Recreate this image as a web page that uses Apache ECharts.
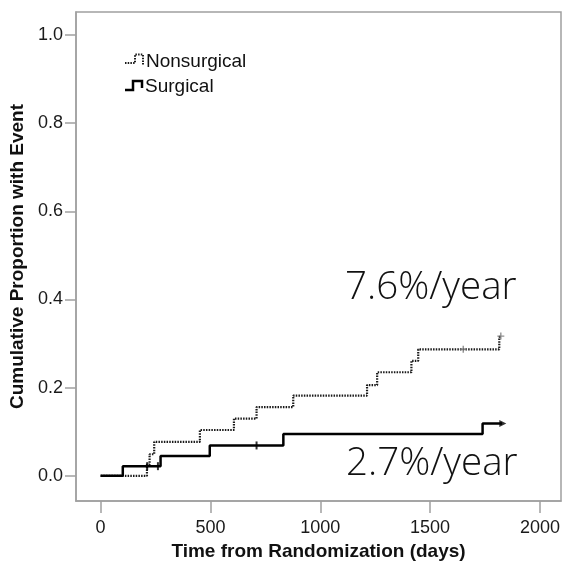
<!DOCTYPE html>
<html>
<head>
<meta charset="utf-8">
<script src="https://cdn.jsdelivr.net/npm/echarts@6/dist/echarts.min.js"></script>
<style>
html, body { margin: 0; padding: 0; background: #fff; }
#chart { width: 563px; height: 567px; }
</style>
</head>
<body>
<div id="chart"></div>
<script>
// 刻度
var xTicks = [0, 500, 1000, 1500, 2000];
var yTicks = [0, 0.2, 0.4, 0.6, 0.8, 1.0];

// Nonsurgical 累积事件 (阶梯)
var nonsurgDays = [0, 211, 223, 244, 452, 607, 710, 877, 1213, 1259, 1415, 1446, 1815, 1822];
var nonsurgVals = [0, 0.026, 0.049, 0.077, 0.104, 0.130, 0.156, 0.182, 0.206, 0.235, 0.261, 0.287, 0.315, 0.315];
var nonsurgCensorDays = [1651, 1822];
var nonsurgCensorVals = [0.287, 0.317];

// Surgical
var surgDays = [0, 101, 273, 497, 832, 1739, 1828];
var surgVals = [0, 0.022, 0.045, 0.069, 0.095, 0.119, 0.119];
var surgCensorDays = [212, 261, 710];
var surgCensorVals = [0.022, 0.022, 0.069];
var surgEnd = [[1831, 0.119]];

var rateTexts = ['7.6%/year', '2.7%/year'];

function zip(a, b) {
    return a.map(function (v, i) { return [v, b[i]]; });
}

var myChart = echarts.init(document.getElementById('chart'));

var axisGray = '#a0a0a0';

var option = {
    animation: false,
    grid: {
        left: 76,
        top: 12,
        right: 2,
        bottom: 66,
        show: true,
        borderColor: axisGray,
        borderWidth: 1.5
    },
    xAxis: {
        type: 'value',
        min: -112,
        max: 2096,
        name: 'Time from Randomization (days)',
        nameLocation: 'middle',
        nameGap: 40,
        nameTextStyle: {
            fontFamily: 'Liberation Sans',
            fontWeight: 'bold',
            fontSize: 19,
            color: '#111'
        },
        axisLine: { show: true, onZero: false, lineStyle: { color: axisGray, width: 1.5 } },
        axisTick: { show: true, customValues: xTicks, length: 12, lineStyle: { color: axisGray, width: 1.5 } },
        axisLabel: {
            customValues: xTicks,
            fontFamily: 'Liberation Sans',
            fontSize: 18,
            color: '#1a1a1a',
            margin: 18,
            formatter: function (v) { return String(v); }
        },
        splitLine: { show: false }
    },
    yAxis: {
        type: 'value',
        min: -0.057,
        max: 1.052,
        name: 'Cumulative Proportion with Event',
        nameLocation: 'middle',
        nameGap: 43,
        nameTextStyle: {
            fontFamily: 'Liberation Sans',
            fontWeight: 'bold',
            fontSize: 19,
            color: '#111'
        },
        axisLine: { show: true, onZero: false, lineStyle: { color: axisGray, width: 1.5 } },
        axisTick: { show: true, customValues: yTicks, length: 11, lineStyle: { color: axisGray, width: 1.5 } },
        axisLabel: {
            customValues: yTicks,
            fontFamily: 'Liberation Sans',
            fontSize: 18,
            color: '#1a1a1a',
            margin: 13,
            formatter: function (v) { return v.toFixed(1); }
        },
        splitLine: { show: false }
    },
    series: [
        {
            name: 'Nonsurgical',
            type: 'line',
            step: 'end',
            symbol: 'none',
            data: zip(nonsurgDays, nonsurgVals),
            lineStyle: { color: '#1a1a1a', width: 2.2, type: [1.5, 1.2] },
            z: 2
        },
        {
            name: 'Surgical',
            type: 'line',
            step: 'end',
            symbol: 'none',
            data: zip(surgDays, surgVals),
            lineStyle: { color: '#000', width: 2.5 },
            z: 3
        },
        {
            type: 'scatter',
            data: zip(nonsurgCensorDays, nonsurgCensorVals),
            symbol: 'path://M4,0H6V4H10V6H6V10H4V6H0V4H4Z',
            symbolSize: 7,
            itemStyle: { color: '#777' },
            z: 4
        },
        {
            type: 'scatter',
            data: zip(surgCensorDays, surgCensorVals),
            symbol: 'rect',
            symbolSize: [2, 8],
            itemStyle: { color: '#000' },
            z: 4
        },
        {
            type: 'scatter',
            data: surgEnd,
            symbol: 'triangle',
            symbolSize: 7,
            symbolRotate: -90,
            itemStyle: { color: '#000' },
            z: 4
        }
    ],
    graphic: [
        {
            type: 'polyline',
            shape: { points: [[125, 63], [135, 63], [135, 54.5], [143, 54.5], [143, 65]] },
            style: { stroke: '#1a1a1a', lineWidth: 2, lineDash: [1.5, 1.2], fill: null }
        },
        {
            type: 'text',
            x: 146,
            y: 61.5,
            style: { text: 'Nonsurgical', fontFamily: 'Liberation Sans', fontSize: 19, fill: '#111', verticalAlign: 'middle' }
        },
        {
            type: 'polyline',
            shape: { points: [[125, 90], [133, 90], [133, 81], [142, 81], [142, 88]] },
            style: { stroke: '#000', lineWidth: 2.5, fill: null }
        },
        {
            type: 'text',
            x: 145,
            y: 86.5,
            style: { text: 'Surgical', fontFamily: 'Liberation Sans', fontSize: 19, fill: '#111', verticalAlign: 'middle' }
        },
        {
            type: 'text',
            x: 345,
            y: 288,
            style: { text: rateTexts[0], fontFamily: 'Open Sans', fontWeight: 300, fontSize: 38.5, fill: '#111', verticalAlign: 'middle' }
        },
        {
            type: 'text',
            x: 346,
            y: 464,
            style: { text: rateTexts[1], fontFamily: 'Open Sans', fontWeight: 300, fontSize: 38.5, fill: '#111', verticalAlign: 'middle' }
        }
    ]
};

myChart.setOption(option);
</script>
</body>
</html>
